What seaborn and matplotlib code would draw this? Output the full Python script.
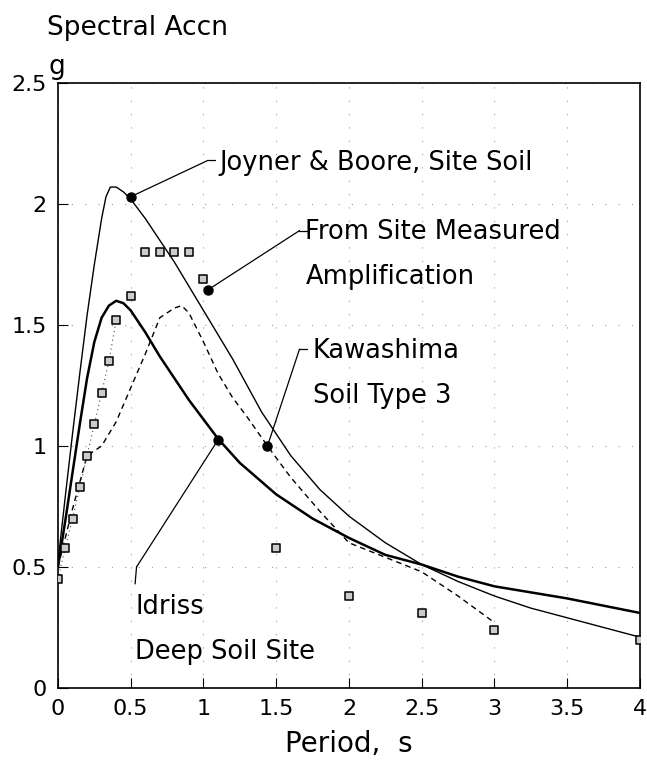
import numpy as np
import pandas as pd
import seaborn as sns
from matplotlib import pyplot as plt

# Joyner & Boore, site soil (thin solid)
jb_period = [0, 0.05, 0.1, 0.15, 0.2, 0.25, 0.3, 0.33, 0.36, 0.4, 0.45, 0.5, 0.6, 0.7, 0.8, 0.9, 1.0,
             1.1, 1.2, 1.3, 1.4, 1.5, 1.6, 1.8, 2.0, 2.25, 2.5, 2.75, 3.0, 3.25, 3.5, 3.75, 4.0]
jb_accn = [0.52, 0.79, 1.05, 1.30, 1.54, 1.75, 1.94, 2.03, 2.07, 2.07, 2.05, 2.02, 1.94, 1.85, 1.76, 1.66, 1.56,
           1.46, 1.36, 1.25, 1.14, 1.05, 0.96, 0.82, 0.71, 0.60, 0.51, 0.44, 0.38, 0.33, 0.29, 0.25, 0.21]

# Idriss, deep soil site (thick solid)
id_period = [0, 0.05, 0.1, 0.15, 0.2, 0.25, 0.3, 0.35, 0.4, 0.45, 0.5, 0.6, 0.7, 0.8, 0.9, 1.0,
             1.1, 1.25, 1.5, 1.75, 2.0, 2.25, 2.5, 2.75, 3.0, 3.5, 4.0]
id_accn = [0.50, 0.69, 0.89, 1.09, 1.28, 1.43, 1.53, 1.58, 1.60, 1.59, 1.56, 1.47, 1.37, 1.28, 1.19, 1.11,
           1.03, 0.93, 0.80, 0.70, 0.62, 0.55, 0.51, 0.46, 0.42, 0.37, 0.31]

# Kawashima, soil type 3 (dashed)
kw_period = [0, 0.1, 0.2, 0.3, 0.4, 0.5, 0.6, 0.7, 0.8, 0.85, 0.9, 1.0, 1.1, 1.2, 1.3, 1.44,
             1.6, 1.8, 2.0, 2.25, 2.5, 2.75, 3.0]
kw_accn = [0.50, 0.74, 0.96, 1.00, 1.10, 1.24, 1.38, 1.53, 1.57, 1.58, 1.55, 1.43, 1.30, 1.20, 1.12, 1.00,
           0.87, 0.73, 0.60, 0.54, 0.48, 0.38, 0.27]

# From site measured amplification (squares)
sm_period = [0, 0.05, 0.1, 0.15, 0.2, 0.25, 0.3, 0.35, 0.4, 0.5, 0.6, 0.7, 0.8, 0.9, 1.0,
             1.5, 2.0, 2.5, 3.0, 4.0]
sm_accn = [0.45, 0.58, 0.70, 0.83, 0.96, 1.09, 1.22, 1.35, 1.52, 1.62, 1.80, 1.80, 1.80, 1.80, 1.69,
           0.58, 0.38, 0.31, 0.24, 0.20]

# callout labels: (marker x, marker y, line end x, line end y, text x, text y, text)
labels = [
    (0.50, 2.03, 1.03, 2.18, 1.11, 2.17, "Joyner & Boore, Site Soil"),
    (1.03, 1.645, 1.66, 1.89, 1.70, 1.79, "From Site Measured\nAmplification"),
    (1.44, 1.00, 1.66, 1.40, 1.75, 1.30, "Kawashima\nSoil Type 3"),
    (1.10, 1.025, 0.54, 0.50, 0.53, 0.24, "Idriss\nDeep Soil Site"),
]

sns.set_style("ticks")
plt.rcParams['font.family'] = ['DejaVu Sans']
plt.rcParams['text.color'] = 'black'
plt.rcParams['axes.labelcolor'] = 'black'
plt.rcParams['xtick.color'] = 'black'
plt.rcParams['ytick.color'] = 'black'

fig = plt.figure(figsize=(6.47, 7.65), dpi=100)
ax = fig.add_axes([0.0896, 0.1007, 0.8995, 0.7908])

ax.grid(True, linestyle=(0, (1, 11)), color="0.6", linewidth=0.8)
ax.set_xticks(np.arange(0, 4.01, 0.5))
ax.set_yticks(np.arange(0, 2.51, 0.5))

sns.lineplot(x=jb_period, y=jb_accn, ax=ax, color="black", linewidth=1.0)
sns.lineplot(x=id_period, y=id_accn, ax=ax, color="black", linewidth=1.8)
sns.lineplot(x=kw_period, y=kw_accn, ax=ax, color="black", linewidth=1.0, linestyle=(0, (4, 3)))
sns.lineplot(x=sm_period[:9], y=sm_accn[:9], ax=ax, color="0.3", linewidth=0.8, linestyle=(0, (1, 3)))
sns.scatterplot(x=sm_period, y=sm_accn, ax=ax, marker="s", s=26, color="0.8",
                edgecolor="black", linewidth=1.1, zorder=5)

for mx, my, lx, ly, tx, ty, txt in labels:
    ax.plot([mx, lx], [my, ly], color="black", linewidth=0.9)
    ax.plot(mx, my, "o", color="black", markersize=6.5, zorder=6)
    if txt.startswith("Idriss"):
        ax.plot([lx, lx - 0.01], [ly, ly - 0.07], color="black", linewidth=0.9)
    else:
        ax.plot([lx, lx + 0.05], [ly, ly], color="black", linewidth=0.9)
    ax.text(tx, ty, txt, fontsize=18.5, va="center", ha="left", linespacing=1.95)

ax.set_xlim(0, 4)
ax.set_ylim(0, 2.5)
ax.tick_params(direction="in", length=7, labelsize=16, pad=8)
for s in ax.spines.values():
    s.set_linewidth(1.2)
    s.set_color("black")
ax.set_xticklabels(["0", "0.5", "1", "1.5", "2", "2.5", "3", "3.5", "4"])
ax.set_yticklabels(["0", "0.5", "1", "1.5", "2", "2.5"])

ax.set_xlabel("Period,  s", fontsize=20, labelpad=8)
fig.text(0.072, 0.963, "Spectral Accn", fontsize=19, va="center", ha="left")
fig.text(0.075, 0.913, "g", fontsize=19, va="center", ha="left")

plt.savefig("out.png", dpi=100)
